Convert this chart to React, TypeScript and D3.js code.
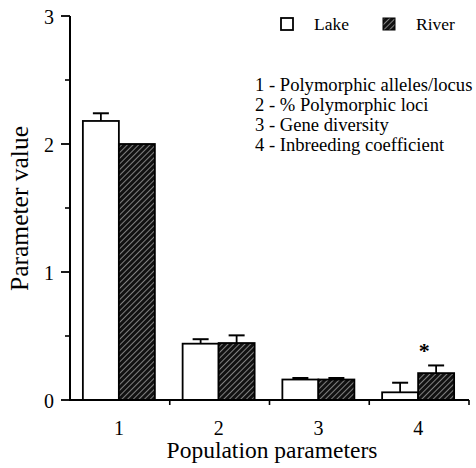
import React, { useEffect, useRef } from "react";
import * as d3 from "d3";

const categories = ["1", "2", "3", "4"];
const lakeValues = [2.18, 0.44, 0.16, 0.06];
const lakeErrors = [0.06, 0.035, 0.012, 0.075];
const riverValues = [2.0, 0.445, 0.16, 0.21];
const riverErrors = [0.0, 0.06, 0.012, 0.06];
const significant = [false, false, false, true];
const yTicks = [0, 1, 2, 3];
const yMinorTicks = [0.5, 1.5, 2.5];
const parameterNotes = [
  "1 - Polymorphic alleles/locus",
  "2 - % Polymorphic loci",
  "3 - Gene diversity",
  "4 - Inbreeding coefficient",
];

const App = () => {
  const svgRef = useRef(null);

  useEffect(() => {
    const svg = d3.select(svgRef.current);
    svg.selectAll("*").remove();
    const font = "Liberation Serif, Times New Roman, serif";

    // hatch pattern for the river bars
    const defs = svg.append("defs");
    const pat = defs
      .append("pattern")
      .attr("id", "hatch")
      .attr("patternUnits", "userSpaceOnUse")
      .attr("width", 4)
      .attr("height", 4)
      .attr("patternTransform", "rotate(45)");
    pat.append("rect").attr("width", 4).attr("height", 4).attr("fill", "#111");
    pat
      .append("line")
      .attr("x1", 0)
      .attr("y1", 0)
      .attr("x2", 0)
      .attr("y2", 4)
      .attr("stroke", "#ddd")
      .attr("stroke-width", 1.1);

    const x = d3.scaleBand().domain(categories).range([70, 469]);
    const y = d3.scaleLinear().domain([0, 3]).range([400, 16]);
    const barW = 36;

    const g = svg.append("g");

    categories.forEach((c, i) => {
      const cx = x(c) + x.bandwidth() / 2 - 1;
      const bars = [
        { v: lakeValues[i], e: lakeErrors[i], x0: cx - barW, fill: "#fff" },
        { v: riverValues[i], e: riverErrors[i], x0: cx, fill: "url(#hatch)" },
      ];
      bars.forEach((b) => {
        const bc = b.x0 + barW / 2;
        if (b.e > 0) {
          g.append("line")
            .attr("x1", bc)
            .attr("x2", bc)
            .attr("y1", y(b.v))
            .attr("y2", y(b.v + b.e))
            .attr("stroke", "#000")
            .attr("stroke-width", 1.8);
          g.append("line")
            .attr("x1", bc - 8)
            .attr("x2", bc + 8)
            .attr("y1", y(b.v + b.e))
            .attr("y2", y(b.v + b.e))
            .attr("stroke", "#000")
            .attr("stroke-width", 2);
        }
        g.append("rect")
          .attr("x", b.x0)
          .attr("y", y(b.v))
          .attr("width", barW)
          .attr("height", y(0) - y(b.v))
          .attr("fill", b.fill)
          .attr("stroke", "#000")
          .attr("stroke-width", 1.8);
      });
      if (significant[i]) {
        g.append("text")
          .attr("x", cx + 6)
          .attr("y", y(riverValues[i] + riverErrors[i]) - 7)
          .attr("text-anchor", "middle")
          .attr("font-family", font)
          .attr("font-weight", "bold")
          .attr("font-size", 22)
          .text("*");
      }
    });

    // y axis
    const yAxis = svg.append("g");
    yAxis
      .append("line")
      .attr("x1", 70)
      .attr("x2", 70)
      .attr("y1", y(3))
      .attr("y2", y(0))
      .attr("stroke", "#000")
      .attr("stroke-width", 2);
    yTicks.forEach((t) => {
      yAxis
        .append("line")
        .attr("x1", 61)
        .attr("x2", 70)
        .attr("y1", y(t))
        .attr("y2", y(t))
        .attr("stroke", "#000")
        .attr("stroke-width", 1.8);
      yAxis
        .append("text")
        .attr("x", 54)
        .attr("y", y(t) + 8)
        .attr("text-anchor", "end")
        .attr("font-family", font)
        .attr("font-size", 20)
        .text(t);
    });
    yMinorTicks.forEach((t) => {
      yAxis
        .append("line")
        .attr("x1", 65)
        .attr("x2", 70)
        .attr("y1", y(t))
        .attr("y2", y(t))
        .attr("stroke", "#000")
        .attr("stroke-width", 1.6);
    });

    // x axis
    const xAxis = svg.append("g");
    xAxis
      .append("line")
      .attr("x1", 69)
      .attr("x2", 469)
      .attr("y1", y(0))
      .attr("y2", y(0))
      .attr("stroke", "#000")
      .attr("stroke-width", 2);
    categories.forEach((c) => {
      const right = x(c) + x.bandwidth();
      xAxis
        .append("line")
        .attr("x1", right)
        .attr("x2", right)
        .attr("y1", y(0))
        .attr("y2", y(0) + 5)
        .attr("stroke", "#000")
        .attr("stroke-width", 1.6);
      xAxis
        .append("text")
        .attr("x", x(c) + x.bandwidth() / 2 - 1)
        .attr("y", 435)
        .attr("text-anchor", "middle")
        .attr("font-family", font)
        .attr("font-size", 20)
        .text(c);
    });

    // axis titles
    svg
      .append("text")
      .attr("x", 272)
      .attr("y", 458)
      .attr("text-anchor", "middle")
      .attr("font-family", font)
      .attr("font-size", 23.5)
      .text("Population parameters");
    svg
      .append("text")
      .attr("transform", "translate(28,208.5) rotate(-90)")
      .attr("text-anchor", "middle")
      .attr("font-family", font)
      .attr("font-size", 25.5)
      .text("Parameter value");

    // legend
    const legend = svg.append("g");
    legend
      .append("rect")
      .attr("x", 281)
      .attr("y", 18)
      .attr("width", 12)
      .attr("height", 12)
      .attr("fill", "#fff")
      .attr("stroke", "#000")
      .attr("stroke-width", 1.8);
    legend
      .append("text")
      .attr("x", 314)
      .attr("y", 30)
      .attr("font-family", font)
      .attr("font-size", 17.5)
      .text("Lake");
    legend
      .append("rect")
      .attr("x", 383)
      .attr("y", 18)
      .attr("width", 12)
      .attr("height", 12)
      .attr("fill", "url(#hatch)")
      .attr("stroke", "#000")
      .attr("stroke-width", 1);
    legend
      .append("text")
      .attr("x", 416)
      .attr("y", 30)
      .attr("font-family", font)
      .attr("font-size", 17.5)
      .text("River");

    parameterNotes.forEach((n, i) => {
      svg
        .append("text")
        .attr("x", 255)
        .attr("y", 90.5 + i * 20)
        .attr("font-family", font)
        .attr("font-size", 18.6)
        .text(n);
    });
  }, []);

  return (
    <svg
      ref={svgRef}
      width={476}
      height={468}
      style={{ position: "absolute", left: 0, top: 0, background: "#fff" }}
    ></svg>
  );
};

export default App;
